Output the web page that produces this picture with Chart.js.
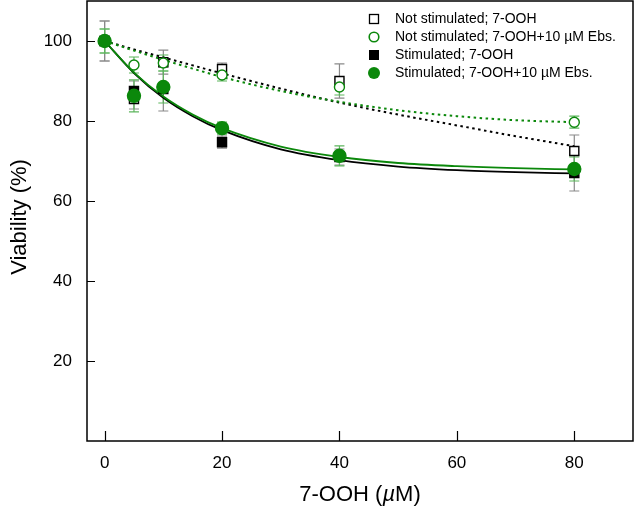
<!DOCTYPE html>
<html>
<head>
<meta charset="utf-8">
<script src="https://cdn.jsdelivr.net/npm/chart.js@4.4.1/dist/chart.umd.min.js"></script>
<style>
  html, body { margin: 0; padding: 0; background: #fff; }
</style>
</head>
<body>
<canvas id="chart" width="634" height="510"></canvas>
<script>
// ---------------------------------------------------------------
// DATA
// ---------------------------------------------------------------
const doses = [0, 5, 10, 20, 40, 80];

const notStim       = [100, 85.5, 94.7, 93.0, 90.0, 72.5];
const notStimErr    = [5.0, 2.5, 3.0, 1.5, 4.3, 4.0];
const notStimEbs    = [100, 94.0, 94.5, 91.5, 88.5, 79.7];
const notStimEbsErr = [3.0, 2.0, 2.0, 1.5, 2.0, 1.5];
const stim          = [100, 87.5, 88.0, 74.7, 71.0, 67.0];
const stimErr       = [5.0, 2.5, 5.5, 1.5, 2.0, 4.5];
const stimEbs       = [100, 86.3, 88.5, 78.2, 71.3, 68.0];
const stimEbsErr    = [3.0, 4.0, 4.0, 1.5, 2.5, 3.0];

// fitted curves, sampled from the figure
const fitX          = [0, 5, 10, 15, 20, 30, 40, 50, 60, 70, 80];
const fitNotStim    = [100, 97.9, 95.9, 93.9, 91.9, 88.1, 84.6, 81.6, 78.9, 76.2, 73.7];
const fitNotStimEbs = [100, 97.6, 95.3, 93.1, 91.0, 87.5, 84.8, 82.7, 81.2, 80.2, 79.7];
const fitStim       = [100, 92.0, 85.8, 81.2, 77.7, 72.9, 70.2, 68.6, 67.7, 67.2, 66.9];
const fitStimEbs    = [100, 92.1, 86.1, 81.6, 78.2, 73.6, 71.0, 69.5, 68.7, 68.2, 67.9];

const xTicks = [0, 20, 40, 60, 80];
const yTicks = [20, 40, 60, 80, 100];

const seriesNames = [
    'Not stimulated; 7-OOH',
    'Not stimulated; 7-OOH+10 \u00b5M Ebs.',
    'Stimulated; 7-OOH',
    'Stimulated; 7-OOH+10 \u00b5M Ebs.'
];

const GREEN = '#0b880b';
const GREEN_ERR = '#5db55d';
const GREY_ERR = '#8a8a8a';
const FONT = "'Liberation Sans', Arial, sans-serif";

const toXY = (xs, ys) => xs.map((v, i) => ({ x: v, y: ys[i] }));

// ---------------------------------------------------------------
// CUSTOM DRAWING: error bars, frame, inward ticks, titles, legend
// ---------------------------------------------------------------
const figurePlugin = {
    id: 'figure',
    beforeDatasetsDraw(chart) {
        const { ctx, scales: { x, y } } = chart;
        const groups = [
            [notStim, notStimErr, GREY_ERR],
            [stim, stimErr, GREY_ERR],
            [notStimEbs, notStimEbsErr, GREEN_ERR],
            [stimEbs, stimEbsErr, GREEN_ERR]
        ];
        ctx.save();
        ctx.lineWidth = 1.2;
        groups.forEach(([vals, errs, col]) => {
            ctx.strokeStyle = col;
            doses.forEach((d, i) => {
                const px = x.getPixelForValue(d);
                const top = y.getPixelForValue(vals[i] + errs[i]);
                const bot = y.getPixelForValue(vals[i] - errs[i]);
                ctx.beginPath();
                ctx.moveTo(px, top); ctx.lineTo(px, bot);
                ctx.moveTo(px - 5, top); ctx.lineTo(px + 5, top);
                ctx.moveTo(px - 5, bot); ctx.lineTo(px + 5, bot);
                ctx.stroke();
            });
        });
        ctx.restore();
    },
    afterDraw(chart) {
        const { ctx, chartArea: a, scales: { x, y } } = chart;
        ctx.save();

        // frame
        ctx.strokeStyle = '#000';
        ctx.lineWidth = 1.5;
        ctx.strokeRect(a.left, a.top, a.right - a.left, a.bottom - a.top);

        // inward tick marks
        ctx.lineWidth = 1.2;
        ctx.beginPath();
        xTicks.forEach(v => {
            const px = Math.round(x.getPixelForValue(v)) + 0.5;
            ctx.moveTo(px, a.bottom); ctx.lineTo(px, a.bottom - 10);
        });
        yTicks.forEach(v => {
            const py = Math.round(y.getPixelForValue(v)) + 0.5;
            ctx.moveTo(a.left, py); ctx.lineTo(a.left + 8, py);
        });
        ctx.stroke();

        // axis titles
        ctx.fillStyle = '#000';
        ctx.textBaseline = 'middle';
        const tFont = `22px ${FONT}`;
        const tItal = `italic 22px ${FONT}`;
        const parts = [['7-OOH (', tFont], ['\u00b5', tItal], ['M)', tFont]];
        let total = 0;
        parts.forEach(([s, f]) => { ctx.font = f; total += ctx.measureText(s).width; });
        let cx = (a.left + a.right) / 2 - total / 2;
        ctx.textAlign = 'left';
        parts.forEach(([s, f]) => {
            ctx.font = f;
            ctx.fillText(s, cx, 495);
            cx += ctx.measureText(s).width;
        });

        ctx.save();
        ctx.translate(20, (a.top + a.bottom) / 2 - 4);
        ctx.rotate(-Math.PI / 2);
        ctx.font = tFont;
        ctx.textAlign = 'center';
        ctx.fillText('Viability (%)', 0, 0);
        ctx.restore();

        // legend
        const rows = [19, 37, 55, 73];
        const mx = 374, tx = 395;
        ctx.font = `14px ${FONT}`;
        ctx.textAlign = 'left';
        rows.forEach((ry, i) => {
            ctx.fillStyle = '#000';
            ctx.fillText(seriesNames[i], tx, ry);
            ctx.lineWidth = 1.3;
            if (i === 0) {
                ctx.fillStyle = '#fff'; ctx.strokeStyle = '#000';
                ctx.fillRect(mx - 4.5, ry - 4.5, 9, 9);
                ctx.strokeRect(mx - 4.5, ry - 4.5, 9, 9);
            } else if (i === 1) {
                ctx.strokeStyle = GREEN; ctx.lineWidth = 1.6;
                ctx.beginPath(); ctx.arc(mx, ry, 4.8, 0, Math.PI * 2); ctx.stroke();
            } else if (i === 2) {
                ctx.fillStyle = '#000';
                ctx.fillRect(mx - 5, ry - 5, 10, 10);
            } else {
                ctx.fillStyle = GREEN;
                ctx.beginPath(); ctx.arc(mx, ry, 6, 0, Math.PI * 2); ctx.fill();
            }
        });
        ctx.restore();
    }
};

// ---------------------------------------------------------------
// CHART
// ---------------------------------------------------------------
const curve = (data, color, dashed, order) => ({
    data: toXY(fitX, data),
    borderColor: color,
    borderWidth: dashed ? 2 : 1.8,
    borderDash: dashed ? [2.5, 3.5] : [],
    cubicInterpolationMode: 'monotone',
    pointRadius: 0,
    fill: false,
    order: order
});

const points = (data, style, radius, bg, border, order) => ({
    data: toXY(doses, data),
    showLine: false,
    pointStyle: style,
    pointRadius: radius,
    pointBackgroundColor: bg,
    pointBorderColor: border,
    pointBorderWidth: 1.4,
    order: order
});

const ctx = document.getElementById('chart').getContext('2d');
new Chart(ctx, {
    type: 'line',
    data: {
        datasets: [
            curve(fitNotStim, '#000', true, 13),
            curve(fitNotStimEbs, GREEN, true, 12),
            curve(fitStim, '#000', false, 11),
            curve(fitStimEbs, GREEN, false, 10),
            points(notStim, 'rect', 6.4, '#fff', '#000', 4),
            points(stim, 'rect', 6.4, '#000', '#000', 3),
            points(notStimEbs, 'circle', 5, '#fff', GREEN, 2),
            points(stimEbs, 'circle', 6.5, GREEN, GREEN, 1)
        ]
    },
    options: {
        responsive: false,
        animation: false,
        layout: { padding: { top: 1, right: 1, left: 0, bottom: 0 }, autoPadding: false },
        plugins: {
            legend: { display: false },
            tooltip: { enabled: false }
        },
        scales: {
            x: {
                type: 'linear',
                min: -3,
                max: 90,
                afterBuildTicks: s => { s.ticks = xTicks.map(v => ({ value: v })); },
                afterFit: s => { s.height = 69; s.paddingLeft = 0; s.paddingRight = 0; },
                grid: { display: false, drawTicks: false },
                border: { display: false },
                ticks: { color: '#000', padding: 12, font: { family: FONT, size: 17 } }
            },
            y: {
                type: 'linear',
                min: 0,
                max: 110,
                afterBuildTicks: s => { s.ticks = yTicks.map(v => ({ value: v })); },
                afterFit: s => { s.width = 87; s.paddingTop = 0; s.paddingBottom = 0; },
                grid: { display: false, drawTicks: false },
                border: { display: false },
                ticks: { color: '#000', padding: 15, font: { family: FONT, size: 17 } }
            }
        }
    },
    plugins: [figurePlugin]
});
</script>
</body>
</html>
